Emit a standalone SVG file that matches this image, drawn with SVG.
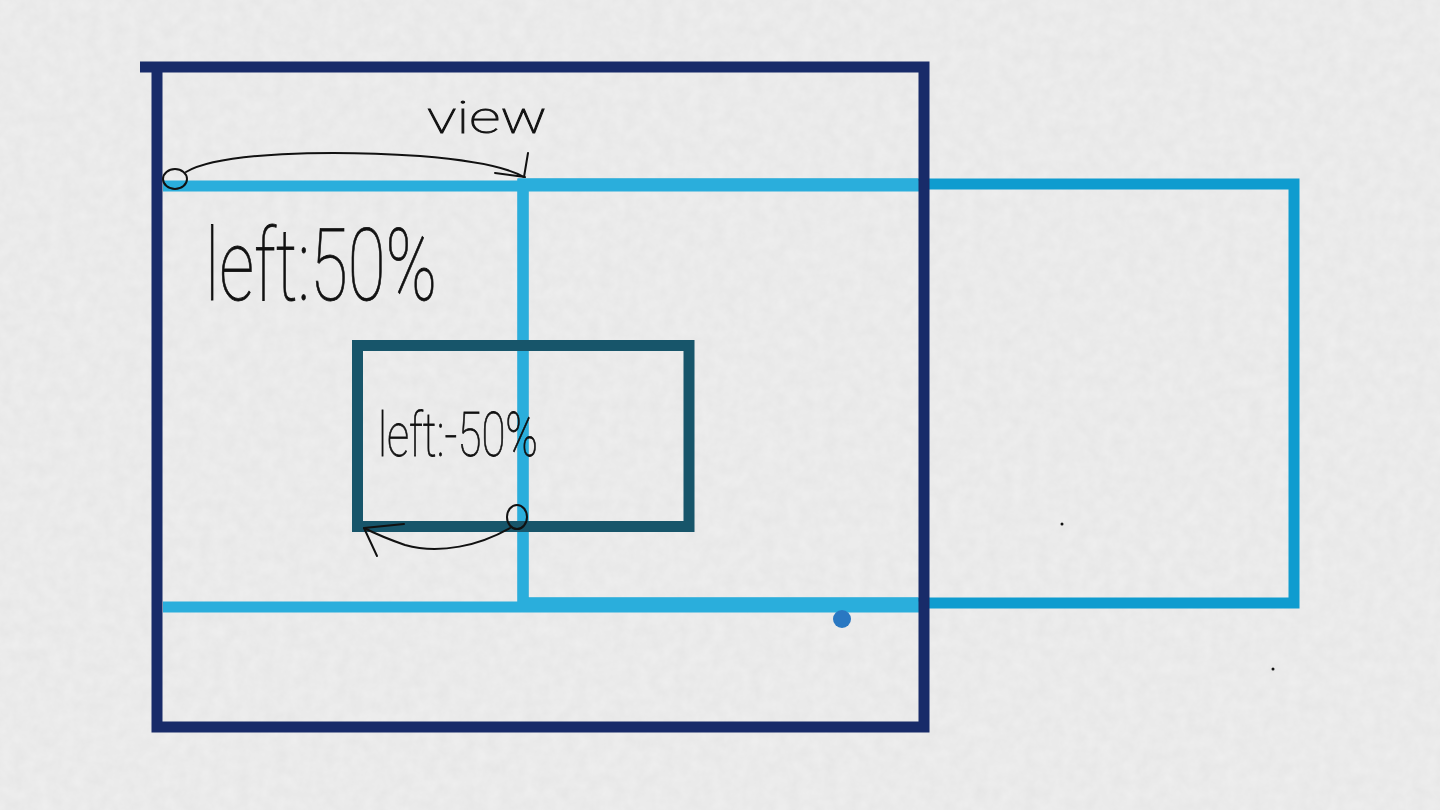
<svg xmlns="http://www.w3.org/2000/svg" width="1440" height="810" viewBox="0 0 1440 810">
  <defs>
    <filter id="paper" x="0" y="0" width="100%" height="100%">
      <feTurbulence type="fractalNoise" baseFrequency="0.08" numOctaves="3" seed="4" result="n"/>
      <feColorMatrix in="n" type="matrix" values="0 0 0 0 0.5  0 0 0 0 0.5  0 0 0 0 0.5  0 0 0 0.18 0"/>
    </filter>
    <clipPath id="inside"><rect x="163" y="73" width="755" height="649"/></clipPath>
    <style>
      .navy{fill:none;stroke:#182b69;stroke-width:11;stroke-linejoin:miter}
      .lb{fill:none;stroke:#2aaedc;stroke-width:11}
      .lb2{fill:none;stroke:#0f9ccf;stroke-width:11;stroke-linejoin:miter}
      .teal{fill:none;stroke:#17556a;stroke-width:11;stroke-linejoin:miter}
      .pen{fill:none;stroke:#111;stroke-width:2;stroke-linecap:round;stroke-linejoin:round}
      .hand{font-family:Roboto,Lato,"Open Sans","Liberation Sans",sans-serif;font-weight:100;fill:#111;stroke:#111;stroke-width:0.8}
    </style>
  </defs>
  <rect width="1440" height="810" fill="#efefef"/>
  <rect width="1440" height="810" filter="url(#paper)"/>

  <g id="shifted-view">
    <rect class="lb2" x="523" y="184" width="771" height="419"/>
    <rect class="lb" x="523" y="184" width="771" height="419" clip-path="url(#inside)"/>
  </g>
  <g id="view">
    <path class="lb" d="M163,186 H924 M163,607 H924"/>
  </g>
  <g id="inner-box">
    <rect class="teal" x="357.5" y="345.5" width="331.5" height="181"/>
  </g>
  <g id="outer-frame">
    <path class="navy" d="M140,67 H924 V727 H157 V67"/>
  </g>

  <g id="connectors">
    <g id="arrow-view">
      <ellipse class="pen" cx="175" cy="179" rx="12" ry="10"/>
      <path class="pen" d="M186,172 C220,152 330,150 420,156 C470,160 505,166 524,177"/>
      <path class="pen" d="M495,173 L525,177 M528,153 L524,177"/>
    </g>
    <g id="arrow-inner">
      <ellipse class="pen" cx="517" cy="517" rx="10" ry="12"/>
      <path class="pen" d="M510,528 C480,545 440,555 405,545 C385,538 372,532 364,528"/>
      <path class="pen" d="M364,528 L404,524 M364,528 L377,556"/>
    </g>
  </g>

  <g id="labels">
    <text class="hand" x="487" y="133" font-size="44" textLength="120" lengthAdjust="spacingAndGlyphs" text-anchor="middle">view</text>
    <text class="hand" x="205" y="300" font-size="100" textLength="232" lengthAdjust="spacingAndGlyphs">left:50%</text>
    <text class="hand" x="378" y="456" font-size="62" textLength="160" lengthAdjust="spacingAndGlyphs">left:-50%</text>
  </g>

  <g id="marks">
    <circle cx="842" cy="619" r="9" fill="#2a78c2"/>
    <circle cx="1062" cy="524" r="1.5" fill="#111"/>
    <circle cx="1273" cy="669" r="1.5" fill="#111"/>
  </g>
</svg>
